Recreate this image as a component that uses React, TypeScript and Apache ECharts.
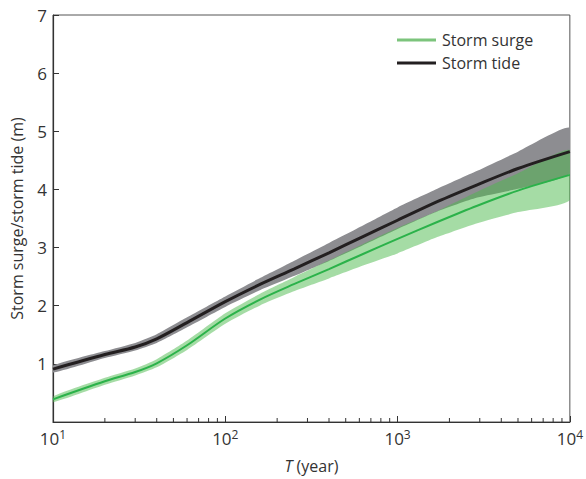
import React, { useEffect, useRef } from "react";
import * as echarts from "echarts";

// Return period T (years)
const T = [10, 20, 30, 40, 60, 100, 160, 250, 400, 630, 1000, 1700, 2900, 5000, 10000];

// Storm tide (black) and its uncertainty band (grey)
const tide = [0.91, 1.16, 1.29, 1.43, 1.71, 2.07, 2.37, 2.63, 2.91, 3.19, 3.47, 3.79, 4.08, 4.36, 4.65];
const tideUpper = [0.97, 1.22, 1.36, 1.51, 1.80, 2.16, 2.48, 2.77, 3.08, 3.38, 3.69, 4.01, 4.32, 4.65, 5.06];
const tideLower = [0.85, 1.10, 1.23, 1.36, 1.63, 1.98, 2.27, 2.51, 2.77, 3.04, 3.32, 3.62, 3.86, 4.01, 4.28];

// Storm surge (green) and its uncertainty band (light green)
const surge = [0.39, 0.70, 0.86, 1.01, 1.32, 1.78, 2.11, 2.37, 2.63, 2.89, 3.15, 3.44, 3.72, 3.98, 4.25];
const surgeUpper = [0.44, 0.76, 0.92, 1.08, 1.40, 1.87, 2.21, 2.49, 2.78, 3.06, 3.34, 3.63, 3.96, 4.28, 4.68];
const surgeLower = [0.34, 0.64, 0.80, 0.94, 1.24, 1.69, 2.01, 2.25, 2.47, 2.69, 2.90, 3.18, 3.42, 3.61, 3.82];

const yTicks = [1, 2, 3, 4, 5, 6, 7];
const minorTicks = [20, 30, 40, 50, 60, 70, 80, 90, 200, 300, 400, 500, 600, 700, 800, 900, 2000, 3000, 4000, 5000, 6000, 7000, 8000, 9000];

const FONT = "'Open Sans', 'Noto Sans', sans-serif";
const SMOOTH = 0.3;

function bandSeries(upper: number[], lower: number[], fill: string, opacity: number) {
  return {
    type: "custom",
    silent: true,
    clip: true,
    data: [[T[0], lower[0]]],
    renderItem: (params: any, api: any) => {
      const top: number[][] = T.map((t, i) => api.coord([t, upper[i]]));
      const bot: number[][] = T.map((t, i) => api.coord([t, lower[i]])).reverse();
      const pts = top.concat(bot);
      return {
        type: "polygon",
        shape: { points: pts, smooth: 0.2 },
        style: { fill, opacity },
      };
    },
  };
}

export default function App() {
  const ref = useRef<HTMLDivElement>(null);
  useEffect(() => {
    if (!ref.current) return;
    const chart = echarts.init(ref.current, null, { renderer: "svg" });
    const axisColor = "#333";
    chart.setOption({
      animation: false,
      textStyle: { fontFamily: FONT },
      grid: { left: 53, right: 13, top: 15, bottom: 55, show: true, borderColor: "#555", borderWidth: 1 },
      legend: {
        orient: "vertical",
        left: 392,
        top: 27,
        itemWidth: 39,
        itemHeight: 3,
        itemGap: 7,
        icon: "rect",
        textStyle: { fontSize: 16, color: "#333", fontFamily: FONT, padding: [0, 0, 0, 1] },
        data: [
          { name: "Storm surge", itemStyle: { color: "#7cc47c" } },
          { name: "Storm tide", itemStyle: { color: "#231f20" } },
        ],
      },
      xAxis: {
        type: "log",
        logBase: 10,
        min: 10,
        max: 10000,
        name: "{it|T} (year)",
        nameLocation: "middle",
        nameGap: 36,
        nameTextStyle: {
          fontSize: 16,
          color: "#333",
          fontFamily: FONT,
          rich: { it: { fontStyle: "italic", fontSize: 16, color: "#333", fontFamily: FONT } },
        },
        axisLine: { show: true, lineStyle: { color: axisColor, width: 1.2 } },
        axisTick: { show: true, inside: true, length: 6, lineStyle: { color: axisColor } },
        splitLine: { show: false },
        axisLabel: {
          margin: 6,
          color: "#333",
          fontFamily: FONT,
          formatter: (v: number) => "10{sup|" + Math.round(Math.log10(v)) + "}",
          rich: {
            sup: { fontSize: 12, color: "#333", fontFamily: FONT, padding: [0, 0, 9, 0] },
          },
          fontSize: 17,
        },
      },
      yAxis: {
        type: "value",
        min: 0,
        max: 7,
        interval: 1,
        name: "Storm surge/storm tide (m)",
        nameLocation: "middle",
        nameGap: 28,
        nameTextStyle: { fontSize: 16, color: "#333", fontFamily: FONT },
        axisLine: { show: true, lineStyle: { color: axisColor, width: 1.2 } },
        axisTick: { show: true, inside: true, length: 6, lineStyle: { color: axisColor } },
        splitLine: { show: false },
        axisLabel: {
          margin: 6,
          color: "#333",
          fontSize: 17,
          fontFamily: FONT,
          formatter: (v: number) => (yTicks.indexOf(v) >= 0 ? String(v) : ""),
        },
      },
      series: [
        bandSeries(tideUpper, tideLower, "#8d8d91", 1),
        {
          name: "Storm tide",
          type: "line",
          data: T.map((t, i) => [t, tide[i]]),
          smooth: SMOOTH,
          symbol: "none",
          lineStyle: { color: "#231f20", width: 3 },
          itemStyle: { color: "#231f20" },
        },
        bandSeries(surgeUpper, surgeLower, "#4cb94c", 0.5),
        {
          name: "Storm surge",
          type: "line",
          data: T.map((t, i) => [t, surge[i]]),
          smooth: SMOOTH,
          symbol: "none",
          lineStyle: { color: "#2bb24a", width: 2 },
          itemStyle: { color: "#2bb24a" },
        },
        {
          type: "custom",
          silent: true,
          clip: false,
          data: minorTicks.map((v) => [v, 0]),
          renderItem: (params: any, api: any) => {
            const p = api.coord([api.value(0), 0]);
            return {
              type: "line",
              shape: { x1: p[0], y1: p[1], x2: p[0], y2: p[1] - 4 },
              style: { stroke: axisColor, lineWidth: 1 },
            };
          },
        },
      ],
    });
    return () => chart.dispose();
  }, []);
  return <div ref={ref} style={{ position: "fixed", left: 0, top: 0, width: 586, height: 479, background: "#fff" }} />;
}
